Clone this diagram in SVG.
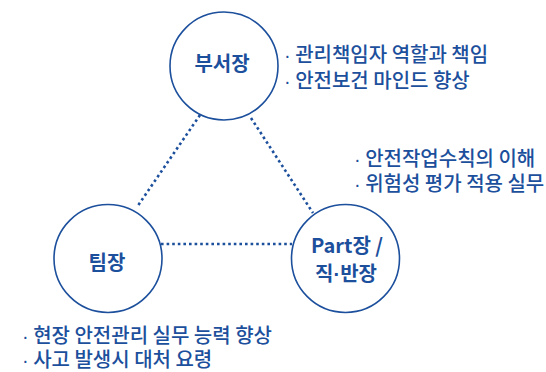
<svg xmlns="http://www.w3.org/2000/svg" width="546" height="372" viewBox="0 0 546 372">
<style>
.node{fill:#fff;stroke:#1c4f9c;stroke-width:1.6}
.lbl{font-family:"Noto Sans CJK KR","Liberation Sans",sans-serif;font-weight:bold;font-size:20px;fill:#1c4f9c;text-anchor:middle}
.txt{font-family:"Noto Sans CJK KR","Liberation Sans",sans-serif;font-weight:500;font-size:20px;fill:#1c4f9c}
.md{font-family:"Liberation Sans",sans-serif}
.dot{stroke:#1c4f9c;stroke-width:2.6;stroke-dasharray:2.6 3;fill:none}
</style>
<rect width="546" height="372" fill="#fff"/>
<g id="connectors">
<line class="dot" x1="200" y1="115" x2="137" y2="207"/>
<line class="dot" x1="251" y1="118" x2="313" y2="213"/>
<line class="dot" x1="161" y1="244" x2="292" y2="244"/>
</g>
<g id="node-busejang">
<circle class="node" cx="224" cy="66" r="54"/>
<text class="lbl" x="222" y="71">부서장</text>
</g>
<g id="node-timjang">
<circle class="node" cx="108" cy="258.5" r="54"/>
<text class="lbl" x="107" y="270">팀장</text>
</g>
<g id="node-partjang">
<circle class="node" cx="345.5" cy="258.5" r="54"/>
<text class="lbl" x="347" y="253">Part장 /</text>
<text class="lbl" x="346" y="281">직<tspan class="md">·</tspan>반장</text>
</g>
<g id="text-busejang">
<text class="txt" x="284" y="62"><tspan class="md">·</tspan> 관리책임자 역할과 책임</text>
<text class="txt" x="284" y="88"><tspan class="md">·</tspan> 안전보건 마인드 향상</text>
</g>
<g id="text-partjang">
<text class="txt" x="354" y="166"><tspan class="md">·</tspan> 안전작업수칙의 이해</text>
<text class="txt" x="354" y="191"><tspan class="md">·</tspan> 위험성 평가 적용 실무</text>
</g>
<g id="text-timjang">
<text class="txt" x="22" y="343"><tspan class="md">·</tspan> 현장 안전관리 실무 능력 향상</text>
<text class="txt" x="22" y="367"><tspan class="md">·</tspan> 사고 발생시 대처 요령</text>
</g>
</svg>
